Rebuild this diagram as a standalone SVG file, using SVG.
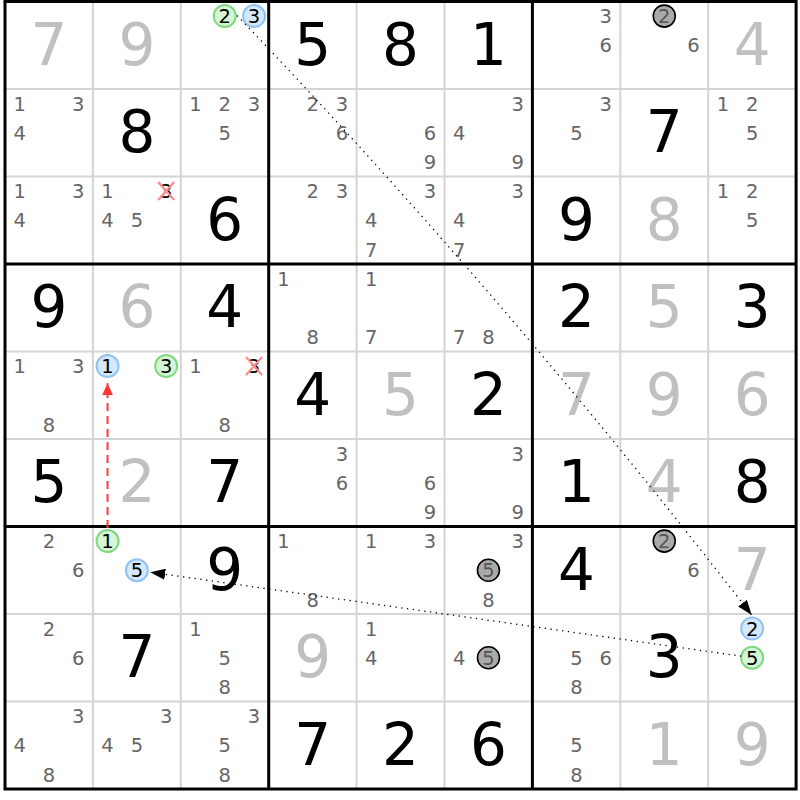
<svg xmlns="http://www.w3.org/2000/svg" width="800" height="800" viewBox="0 0 800 800">
<defs>
<style>
text{font-family:"DejaVu Sans",Verdana,"Liberation Sans",sans-serif;text-anchor:middle}
.b{font-size:58px;fill:#000}
.s{font-size:58px;fill:#c0c0c0}
.c{font-size:19.5px;fill:#666}
.k{font-size:19.5px;fill:#000}
.gt{font-size:19.5px;fill:#555}
.on{fill:#d5f5d5;stroke:#7fd87f;stroke-width:2}
.off{fill:#d6e8fb;stroke:#8fc3f5;stroke-width:2}
.gy{fill:#aaa;stroke:#000;stroke-width:1.6}
.x{stroke:#ff8a8a;stroke-width:2.2;fill:none}
.thin{stroke:#d4d4d4;stroke-width:2}
.thick{stroke:#000;stroke-width:3;fill:none}
.dot{fill:none;stroke:#000;stroke-width:1.3;stroke-dasharray:1.3 4.5}
.red{fill:none;stroke:#ff3b3b;stroke-width:2;stroke-dasharray:8 5}
</style>
<marker id="ah" markerUnits="userSpaceOnUse" markerWidth="15" markerHeight="11" refX="15" refY="5.5" orient="auto"><path d="M0,0 L15,5.5 L0,11 z" fill="#000"/></marker>
<marker id="ahr" markerUnits="userSpaceOnUse" markerWidth="12" markerHeight="11" refX="12" refY="5.5" orient="auto"><path d="M0,0 L12,5.5 L0,11 z" fill="#ff3333"/></marker>
</defs>
<rect width="800" height="800" fill="#fff"/>
<g id="grid">
<path class="thin" d="M92.9,1.5V789M180.8,1.5V789M356.6,1.5V789M444.5,1.5V789M620.3,1.5V789M708.2,1.5V789M5,89H796.1M5,176.5H796.1M5,351.5H796.1M5,439H796.1M5,614H796.1M5,701.5H796.1"/>
<path class="thick" d="M268.7,1.5V789M532.4,1.5V789M5,264H796.1M5,526.5H796.1"/>
<rect class="thick" x="5" y="1.5" width="791.1" height="787.5"/>
</g>
<!-- row 0 -->
<g id="r0c0" transform="translate(5,1.5)"><text class="s" x="43.95" y="63">7</text></g>
<g id="r0c1" transform="translate(92.9,1.5)"><text class="s" x="43.95" y="63">9</text></g>
<g id="r0c2" transform="translate(180.8,1.5)"><circle class="on" cx="43.95" cy="14.58" r="11"/><text class="k" x="43.95" y="21.7">2</text><circle class="off" cx="73.25" cy="14.58" r="11"/><text class="k" x="73.25" y="21.7">3</text></g>
<g id="r0c3" transform="translate(268.7,1.5)"><text class="b" x="43.95" y="63">5</text></g>
<g id="r0c4" transform="translate(356.6,1.5)"><text class="b" x="43.95" y="63">8</text></g>
<g id="r0c5" transform="translate(444.5,1.5)"><text class="b" x="43.95" y="63">1</text></g>
<g id="r0c6" transform="translate(532.4,1.5)"><text class="c" x="73.25" y="21.7">3</text><text class="c" x="73.25" y="50.85">6</text></g>
<g id="r0c7" transform="translate(620.3,1.5)"><circle class="gy" cx="43.95" cy="14.58" r="11"/><text class="gt" x="43.95" y="21.7">2</text><text class="c" x="73.25" y="50.85">6</text></g>
<g id="r0c8" transform="translate(708.2,1.5)"><text class="s" x="43.95" y="63">4</text></g>
<!-- row 1 -->
<g id="r1c0" transform="translate(5,89)"><text class="c" x="14.65" y="21.7">1</text><text class="c" x="73.25" y="21.7">3</text><text class="c" x="14.65" y="50.85">4</text></g>
<g id="r1c1" transform="translate(92.9,89)"><text class="b" x="43.95" y="63">8</text></g>
<g id="r1c2" transform="translate(180.8,89)"><text class="c" x="14.65" y="21.7">1</text><text class="c" x="43.95" y="21.7">2</text><text class="c" x="73.25" y="21.7">3</text><text class="c" x="43.95" y="50.85">5</text></g>
<g id="r1c3" transform="translate(268.7,89)"><text class="c" x="43.95" y="21.7">2</text><text class="c" x="73.25" y="21.7">3</text><text class="c" x="73.25" y="50.85">6</text></g>
<g id="r1c4" transform="translate(356.6,89)"><text class="c" x="73.25" y="50.85">6</text><text class="c" x="73.25" y="80">9</text></g>
<g id="r1c5" transform="translate(444.5,89)"><text class="c" x="73.25" y="21.7">3</text><text class="c" x="14.65" y="50.85">4</text><text class="c" x="73.25" y="80">9</text></g>
<g id="r1c6" transform="translate(532.4,89)"><text class="c" x="73.25" y="21.7">3</text><text class="c" x="43.95" y="50.85">5</text></g>
<g id="r1c7" transform="translate(620.3,89)"><text class="b" x="43.95" y="63">7</text></g>
<g id="r1c8" transform="translate(708.2,89)"><text class="c" x="14.65" y="21.7">1</text><text class="c" x="43.95" y="21.7">2</text><text class="c" x="43.95" y="50.85">5</text></g>
<!-- row 2 -->
<g id="r2c0" transform="translate(5,176.5)"><text class="c" x="14.65" y="21.7">1</text><text class="c" x="73.25" y="21.7">3</text><text class="c" x="14.65" y="50.85">4</text></g>
<g id="r2c1" transform="translate(92.9,176.5)"><text class="c" x="14.65" y="21.7">1</text><text class="k" x="73.25" y="21.7">3</text><path class="x" d="M65.25,5.6L81.25,23.6M81.25,5.6L65.25,23.6"/><text class="c" x="14.65" y="50.85">4</text><text class="c" x="43.95" y="50.85">5</text></g>
<g id="r2c2" transform="translate(180.8,176.5)"><text class="b" x="43.95" y="63">6</text></g>
<g id="r2c3" transform="translate(268.7,176.5)"><text class="c" x="43.95" y="21.7">2</text><text class="c" x="73.25" y="21.7">3</text></g>
<g id="r2c4" transform="translate(356.6,176.5)"><text class="c" x="73.25" y="21.7">3</text><text class="c" x="14.65" y="50.85">4</text><text class="c" x="14.65" y="80">7</text></g>
<g id="r2c5" transform="translate(444.5,176.5)"><text class="c" x="73.25" y="21.7">3</text><text class="c" x="14.65" y="50.85">4</text><text class="c" x="14.65" y="80">7</text></g>
<g id="r2c6" transform="translate(532.4,176.5)"><text class="b" x="43.95" y="63">9</text></g>
<g id="r2c7" transform="translate(620.3,176.5)"><text class="s" x="43.95" y="63">8</text></g>
<g id="r2c8" transform="translate(708.2,176.5)"><text class="c" x="14.65" y="21.7">1</text><text class="c" x="43.95" y="21.7">2</text><text class="c" x="43.95" y="50.85">5</text></g>
<!-- row 3 -->
<g id="r3c0" transform="translate(5,264)"><text class="b" x="43.95" y="63">9</text></g>
<g id="r3c1" transform="translate(92.9,264)"><text class="s" x="43.95" y="63">6</text></g>
<g id="r3c2" transform="translate(180.8,264)"><text class="b" x="43.95" y="63">4</text></g>
<g id="r3c3" transform="translate(268.7,264)"><text class="c" x="14.65" y="21.7">1</text><text class="c" x="43.95" y="80">8</text></g>
<g id="r3c4" transform="translate(356.6,264)"><text class="c" x="14.65" y="21.7">1</text><text class="c" x="14.65" y="80">7</text></g>
<g id="r3c5" transform="translate(444.5,264)"><text class="c" x="14.65" y="80">7</text><text class="c" x="43.95" y="80">8</text></g>
<g id="r3c6" transform="translate(532.4,264)"><text class="b" x="43.95" y="63">2</text></g>
<g id="r3c7" transform="translate(620.3,264)"><text class="s" x="43.95" y="63">5</text></g>
<g id="r3c8" transform="translate(708.2,264)"><text class="b" x="43.95" y="63">3</text></g>
<!-- row 4 -->
<g id="r4c0" transform="translate(5,351.5)"><text class="c" x="14.65" y="21.7">1</text><text class="c" x="73.25" y="21.7">3</text><text class="c" x="43.95" y="80">8</text></g>
<g id="r4c1" transform="translate(92.9,351.5)"><circle class="off" cx="14.65" cy="14.58" r="11"/><text class="k" x="14.65" y="21.7">1</text><circle class="on" cx="73.25" cy="14.58" r="11"/><text class="k" x="73.25" y="21.7">3</text></g>
<g id="r4c2" transform="translate(180.8,351.5)"><text class="c" x="14.65" y="21.7">1</text><text class="k" x="73.25" y="21.7">3</text><path class="x" d="M65.25,5.6L81.25,23.6M81.25,5.6L65.25,23.6"/><text class="c" x="43.95" y="80">8</text></g>
<g id="r4c3" transform="translate(268.7,351.5)"><text class="b" x="43.95" y="63">4</text></g>
<g id="r4c4" transform="translate(356.6,351.5)"><text class="s" x="43.95" y="63">5</text></g>
<g id="r4c5" transform="translate(444.5,351.5)"><text class="b" x="43.95" y="63">2</text></g>
<g id="r4c6" transform="translate(532.4,351.5)"><text class="s" x="43.95" y="63">7</text></g>
<g id="r4c7" transform="translate(620.3,351.5)"><text class="s" x="43.95" y="63">9</text></g>
<g id="r4c8" transform="translate(708.2,351.5)"><text class="s" x="43.95" y="63">6</text></g>
<!-- row 5 -->
<g id="r5c0" transform="translate(5,439)"><text class="b" x="43.95" y="63">5</text></g>
<g id="r5c1" transform="translate(92.9,439)"><text class="s" x="43.95" y="63">2</text></g>
<g id="r5c2" transform="translate(180.8,439)"><text class="b" x="43.95" y="63">7</text></g>
<g id="r5c3" transform="translate(268.7,439)"><text class="c" x="73.25" y="21.7">3</text><text class="c" x="73.25" y="50.85">6</text></g>
<g id="r5c4" transform="translate(356.6,439)"><text class="c" x="73.25" y="50.85">6</text><text class="c" x="73.25" y="80">9</text></g>
<g id="r5c5" transform="translate(444.5,439)"><text class="c" x="73.25" y="21.7">3</text><text class="c" x="73.25" y="80">9</text></g>
<g id="r5c6" transform="translate(532.4,439)"><text class="b" x="43.95" y="63">1</text></g>
<g id="r5c7" transform="translate(620.3,439)"><text class="s" x="43.95" y="63">4</text></g>
<g id="r5c8" transform="translate(708.2,439)"><text class="b" x="43.95" y="63">8</text></g>
<!-- row 6 -->
<g id="r6c0" transform="translate(5,526.5)"><text class="c" x="43.95" y="21.7">2</text><text class="c" x="73.25" y="50.85">6</text></g>
<g id="r6c1" transform="translate(92.9,526.5)"><circle class="on" cx="14.65" cy="14.58" r="11"/><text class="k" x="14.65" y="21.7">1</text><circle class="off" cx="43.95" cy="43.75" r="11"/><text class="k" x="43.95" y="50.85">5</text></g>
<g id="r6c2" transform="translate(180.8,526.5)"><text class="b" x="43.95" y="63">9</text></g>
<g id="r6c3" transform="translate(268.7,526.5)"><text class="c" x="14.65" y="21.7">1</text><text class="c" x="43.95" y="80">8</text></g>
<g id="r6c4" transform="translate(356.6,526.5)"><text class="c" x="14.65" y="21.7">1</text><text class="c" x="73.25" y="21.7">3</text></g>
<g id="r6c5" transform="translate(444.5,526.5)"><text class="c" x="73.25" y="21.7">3</text><circle class="gy" cx="43.95" cy="43.75" r="11"/><text class="gt" x="43.95" y="50.85">5</text><text class="c" x="43.95" y="80">8</text></g>
<g id="r6c6" transform="translate(532.4,526.5)"><text class="b" x="43.95" y="63">4</text></g>
<g id="r6c7" transform="translate(620.3,526.5)"><circle class="gy" cx="43.95" cy="14.58" r="11"/><text class="gt" x="43.95" y="21.7">2</text><text class="c" x="73.25" y="50.85">6</text></g>
<g id="r6c8" transform="translate(708.2,526.5)"><text class="s" x="43.95" y="63">7</text></g>
<!-- row 7 -->
<g id="r7c0" transform="translate(5,614)"><text class="c" x="43.95" y="21.7">2</text><text class="c" x="73.25" y="50.85">6</text></g>
<g id="r7c1" transform="translate(92.9,614)"><text class="b" x="43.95" y="63">7</text></g>
<g id="r7c2" transform="translate(180.8,614)"><text class="c" x="14.65" y="21.7">1</text><text class="c" x="43.95" y="50.85">5</text><text class="c" x="43.95" y="80">8</text></g>
<g id="r7c3" transform="translate(268.7,614)"><text class="s" x="43.95" y="63">9</text></g>
<g id="r7c4" transform="translate(356.6,614)"><text class="c" x="14.65" y="21.7">1</text><text class="c" x="14.65" y="50.85">4</text></g>
<g id="r7c5" transform="translate(444.5,614)"><text class="c" x="14.65" y="50.85">4</text><circle class="gy" cx="43.95" cy="43.75" r="11"/><text class="gt" x="43.95" y="50.85">5</text></g>
<g id="r7c6" transform="translate(532.4,614)"><text class="c" x="43.95" y="50.85">5</text><text class="c" x="73.25" y="50.85">6</text><text class="c" x="43.95" y="80">8</text></g>
<g id="r7c7" transform="translate(620.3,614)"><text class="b" x="43.95" y="63">3</text></g>
<g id="r7c8" transform="translate(708.2,614)"><circle class="off" cx="43.95" cy="14.58" r="11"/><text class="k" x="43.95" y="21.7">2</text><circle class="on" cx="43.95" cy="43.75" r="11"/><text class="k" x="43.95" y="50.85">5</text></g>
<!-- row 8 -->
<g id="r8c0" transform="translate(5,701.5)"><text class="c" x="73.25" y="21.7">3</text><text class="c" x="14.65" y="50.85">4</text><text class="c" x="43.95" y="80">8</text></g>
<g id="r8c1" transform="translate(92.9,701.5)"><text class="c" x="73.25" y="21.7">3</text><text class="c" x="14.65" y="50.85">4</text><text class="c" x="43.95" y="50.85">5</text></g>
<g id="r8c2" transform="translate(180.8,701.5)"><text class="c" x="73.25" y="21.7">3</text><text class="c" x="43.95" y="50.85">5</text><text class="c" x="43.95" y="80">8</text></g>
<g id="r8c3" transform="translate(268.7,701.5)"><text class="b" x="43.95" y="63">7</text></g>
<g id="r8c4" transform="translate(356.6,701.5)"><text class="b" x="43.95" y="63">2</text></g>
<g id="r8c5" transform="translate(444.5,701.5)"><text class="b" x="43.95" y="63">6</text></g>
<g id="r8c6" transform="translate(532.4,701.5)"><text class="c" x="43.95" y="50.85">5</text><text class="c" x="43.95" y="80">8</text></g>
<g id="r8c7" transform="translate(620.3,701.5)"><text class="s" x="43.95" y="63">1</text></g>
<g id="r8c8" transform="translate(708.2,701.5)"><text class="s" x="43.95" y="63">9</text></g>
<g id="links">
<path class="dot" d="M237,15.5 Q500,290 751.7,615" marker-end="url(#ah)"/>
<path class="dot" d="M741.3,656.2 L150.2,572.15" marker-end="url(#ah)"/>
<path class="red" d="M107.55,528 L107.55,383.3" marker-end="url(#ahr)"/>
</g>
</svg>
